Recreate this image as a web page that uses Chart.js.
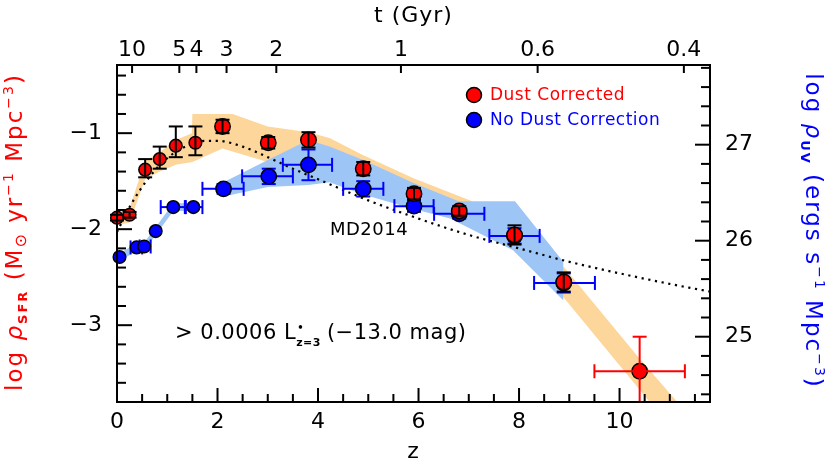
<!DOCTYPE html>
<html>
<head>
<meta charset="utf-8">
<script src="https://cdn.jsdelivr.net/npm/chart.js@4/dist/chart.umd.min.js"></script>
<style>
    html, body { margin: 0; padding: 0; background: #fff; }
    #wrap { width: 830px; height: 470px; }
</style>
</head>
<body>
<div id="wrap"><canvas id="chart"></canvas></div>
<script>
// dust corrected SFR density (red points)
const redZ     = [0.00, 0.25, 0.56, 0.85, 1.17, 1.56, 2.10, 3.01, 3.81, 4.90, 5.91, 6.81, 7.91, 8.89, 10.40]
const redSFR   = [-1.88, -1.85, -1.38, -1.27, -1.13, -1.10, -0.93, -1.10, -1.07, -1.37, -1.63, -1.81, -2.06, -2.55, -3.48]
const redErrUp = [0.03, 0.03, 0.11, 0.13, 0.20, 0.17, 0.07, 0.06, 0.08, 0.07, 0.06, 0.05, 0.10, 0.10, 0.36]
const redErrDn = [0.03, 0.03, 0.08, 0.10, 0.12, 0.13, 0.07, 0.06, 0.08, 0.07, 0.06, 0.05, 0.10, 0.10, 0.50]
const redZLo   = [null, null, null, null, null, null, null, null, null, null, null, null, null, null, 9.50]
const redZHi   = [null, null, null, null, null, null, null, null, null, null, null, null, null, null, 11.30]

// no dust correction (blue points)
const blueZ   = [0.05, 0.39, 0.54, 0.77, 1.12, 1.52, 2.12, 3.02, 3.81, 4.90, 5.91, 6.81, 7.91, 8.89]
const blueSFR = [-2.29, -2.19, -2.18, -2.02, -1.77, -1.77, -1.58, -1.45, -1.33, -1.58, -1.76, -1.84, -2.07, -2.56]
const blueZLo = [null, 0.27, 0.45, null, 0.87, 1.35, 1.70, 2.49, 3.30, 4.50, 5.52, 6.31, 7.41, 8.30]
const blueZHi = [null, 0.50, 0.67, null, 1.37, 1.70, 2.52, 3.50, 4.28, 5.30, 6.30, 7.31, 8.41, 9.51]
const blueErr = [0, 0, 0, 0, 0, 0, 0.05, 0.08, 0.16, 0.08, 0.06, 0.05, 0.08, 0.10]

// MD2014 curve (dotted)
const mdZ   = [0, 0.25, 0.5, 0.75, 1, 1.25, 1.5, 1.75, 2, 2.5, 3, 3.5, 4, 5, 6, 7, 8, 9, 10, 11, 11.8]
const mdSFR = [-2.03, -1.77, -1.56, -1.39, -1.26, -1.17, -1.11, -1.08, -1.08, -1.14, -1.25, -1.37, -1.48, -1.70, -1.89, -2.06, -2.20, -2.34, -2.46, -2.57, -2.65]

// shaded ranges, outline traced upper edge then lower edge back
const orangeBandZ   = [0, 0.25, 0.56, 0.85, 1.17, 1.49, 1.50, 2.30, 3.00, 3.81, 4.23, 4.90, 5.90, 7.03, 7.90, 8.90, 10.40, 11.15,
                       10.60, 8.90, 7.90, 6.80, 5.90, 4.90, 3.81, 3.00, 2.10, 1.50, 1.17, 0.85, 0.56, 0.25, 0]
const orangeBandSFR = [-1.81, -1.78, -1.29, -1.20, -1.07, -1.00, -0.80, -0.80, -0.93, -0.99, -1.05, -1.23, -1.47, -1.70, -1.97, -2.40, -3.35, -3.80,
                       -3.80, -2.72, -2.14, -1.92, -1.75, -1.55, -1.35, -1.30, -1.16, -1.30, -1.33, -1.40, -1.48, -1.93, -1.96]
const blueBandZ   = [2.12, 3.00, 3.81, 4.23, 4.90, 5.90, 6.80, 7.92, 8.88, 8.88, 7.88, 6.63, 5.90, 4.90, 4.23, 3.81, 3.00, 2.12]
const blueBandSFR = [-1.51, -1.28, -1.07, -1.14, -1.28, -1.52, -1.71, -1.71, -2.34, -2.74, -2.22, -1.89, -1.79, -1.64, -1.51, -1.54, -1.56, -1.66]
const blueLowBandZ   = [0.05, 0.39, 0.54, 0.77, 1.12, 1.52, 1.52, 1.12, 0.77, 0.54, 0.39, 0.05]
const blueLowBandSFR = [-2.25, -2.15, -2.14, -1.98, -1.73, -1.73, -1.81, -1.81, -2.06, -2.22, -2.23, -2.33]

// top axis: age of the universe and where it falls in z
const ageLabels = ['10', '5', '4', '3', '2', '1', '0.6', '0.4']
const ageZ      = [0.30, 1.24, 1.58, 2.18, 3.17, 5.65, 8.37, 11.28]

const zTicks   = [0, 2, 4, 6, 8, 10]
const sfrTicks = [-3, -2, -1]
const uvTicks  = [25, 26, 27]

const zMin = 0, zMax = 11.8
const sfrMin = -3.80, sfrMax = -0.29
const uvOffset = 28.12

const FONT = '"DejaVu Sans", sans-serif'
const RED = '#ff0000'
const BLUE = '#0000ff'

function pts(xArr, yArr) {
    return xArr.map((x, i) => ({ x: x, y: yArr[i] }))
}

function line(ctx, x1, y1, x2, y2) {
    ctx.beginPath()
    ctx.moveTo(x1, y1)
    ctx.lineTo(x2, y2)
    ctx.stroke()
}

function clipY(chart) {
    const a = chart.chartArea
    chart.ctx.beginPath()
    chart.ctx.rect(0, a.top, chart.width, a.bottom - a.top)
    chart.ctx.clip()
}

// error bars of the blue points, drawn just under the blue circles
function drawBlueErrors(chart) {
    const ctx = chart.ctx
    const sx = chart.scales.x
    const sy = chart.scales.y
    ctx.save()
    clipY(chart)
    ctx.strokeStyle = BLUE
    ctx.lineWidth = 2
    blueZ.forEach((z, i) => {
        const px = sx.getPixelForValue(z)
        const py = sy.getPixelForValue(blueSFR[i])
        if (blueZLo[i] !== null) {
            const x1 = sx.getPixelForValue(blueZLo[i])
            const x2 = sx.getPixelForValue(blueZHi[i])
            line(ctx, x1, py, x2, py)
            line(ctx, x1, py - 7, x1, py + 7)
            line(ctx, x2, py - 7, x2, py + 7)
        }
        if (blueErr[i] > 0) {
            const y1 = sy.getPixelForValue(blueSFR[i] + blueErr[i])
            const y2 = sy.getPixelForValue(blueSFR[i] - blueErr[i])
            line(ctx, px, y1, px, y2)
            line(ctx, px - 7, y1, px + 7, y1)
            line(ctx, px - 7, y2, px + 7, y2)
        }
    })
    ctx.restore()
}

// error bars of the red points, drawn over the red circles
function drawRedErrors(chart) {
    const ctx = chart.ctx
    const sx = chart.scales.x
    const sy = chart.scales.y
    ctx.save()
    clipY(chart)
    ctx.lineWidth = 2
    redZ.forEach((z, i) => {
        ctx.strokeStyle = redZLo[i] !== null ? RED : '#000'
        const px = sx.getPixelForValue(z)
        const py = sy.getPixelForValue(redSFR[i])
        const y1 = sy.getPixelForValue(redSFR[i] + redErrUp[i])
        const y2 = sy.getPixelForValue(redSFR[i] - redErrDn[i])
        line(ctx, px, y1, px, y2)
        line(ctx, px - 7, y1, px + 7, y1)
        line(ctx, px - 7, y2, px + 7, y2)
        if (redZLo[i] !== null) {
            const x1 = sx.getPixelForValue(redZLo[i])
            const x2 = sx.getPixelForValue(redZHi[i])
            line(ctx, x1, py, x2, py)
            line(ctx, x1, py - 7, x1, py + 7)
            line(ctx, x2, py - 7, x2, py + 7)
        }
    })
    ctx.restore()
}

// text made of pieces with their own font and baseline shift
function drawRuns(ctx, runs, cx, cy, angle, color) {
    ctx.save()
    ctx.translate(cx, cy)
    ctx.rotate(angle)
    ctx.fillStyle = color
    ctx.textBaseline = 'alphabetic'
    ctx.letterSpacing = '2px'
    let total = 0
    runs.forEach(r => { ctx.font = r.font; total += ctx.measureText(r.t).width })
    let x = -total / 2
    runs.forEach(r => {
        ctx.font = r.font
        ctx.fillText(r.t, x, r.dy)
        x += ctx.measureText(r.t).width
    })
    ctx.restore()
}

const errorBars = {
    id: 'errorBars',
    beforeDatasetDraw(chart, args) {
        if (chart.data.datasets[args.index].label === 'No Dust Correction') drawBlueErrors(chart)
    },
    afterDatasetDraw(chart, args) {
        if (chart.data.datasets[args.index].label === 'Dust Corrected') drawRedErrors(chart)
    }
}

// frame, inward ticks, titles, legend and labels
const decorations = {
    id: 'decorations',
    afterDraw(chart) {
        const ctx = chart.ctx
        const a = chart.chartArea
        const sx = chart.scales.x
        const sy = chart.scales.y
        const sy2 = chart.scales.y2
        ctx.save()
        ctx.strokeStyle = '#000'
        ctx.lineWidth = 2

        for (let k = 0; k <= Math.floor(zMax * 2); k++) {
            const v = k / 2
            const len = (k % 4 === 0) ? 14 : 8
            const px = sx.getPixelForValue(v)
            line(ctx, px, a.bottom, px, a.bottom - len)
        }
        ageZ.forEach(z => {
            const px = sx.getPixelForValue(z)
            line(ctx, px, a.top, px, a.top + 8)
        })
        for (let k = -19; k <= -2; k++) {
            const v = k / 5
            const len = (k % 5 === 0) ? 15 : 9
            const py = sy.getPixelForValue(v)
            line(ctx, a.left, py, a.left + len, py)
        }
        for (let k = 122; k <= 139; k++) {
            const v = k / 5
            const len = (k % 5 === 0) ? 15 : 9
            const py = sy2.getPixelForValue(v)
            line(ctx, a.right, py, a.right - len, py)
        }
        ctx.strokeRect(a.left, a.top, a.right - a.left, a.bottom - a.top)

        // axis titles
        const cx = (a.left + a.right) / 2
        ctx.fillStyle = '#000'
        ctx.font = '22px ' + FONT
        ctx.textAlign = 'center'
        ctx.textBaseline = 'middle'
        ctx.letterSpacing = '1px'
        ctx.fillText('z', cx, 452)
        ctx.fillText('t (Gyr)', cx, 16)
        ctx.textAlign = 'left'

        const big = '23px ' + FONT
        const sup = '14px ' + FONT
        drawRuns(ctx, [
            { t: 'log ', font: big, dy: 0 },
            { t: 'ρ', font: 'italic ' + big, dy: 0 },
            { t: 'SFR', font: 'bold 13px ' + FONT, dy: 5 },
            { t: ' (M', font: big, dy: 0 },
            { t: '⊙', font: '16px ' + FONT, dy: 4 },
            { t: ' yr', font: big, dy: 0 },
            { t: '−1', font: sup, dy: -9 },
            { t: ' Mpc', font: big, dy: 0 },
            { t: '−3', font: sup, dy: -9 },
            { t: ')', font: big, dy: 0 }
        ], 22, 232, -Math.PI / 2, RED)
        drawRuns(ctx, [
            { t: 'log ', font: big, dy: 0 },
            { t: 'ρ', font: 'italic ' + big, dy: 0 },
            { t: 'UV', font: 'bold 13px ' + FONT, dy: 5 },
            { t: ' (ergs s', font: big, dy: 0 },
            { t: '−1', font: sup, dy: -9 },
            { t: ' Mpc', font: big, dy: 0 },
            { t: '−3', font: sup, dy: -9 },
            { t: ')', font: big, dy: 0 }
        ], 806, 231, Math.PI / 2, BLUE)

        // legend
        const legend = [['Dust Corrected', RED, 95], ['No Dust Correction', BLUE, 120]]
        ctx.lineWidth = 1.5
        ctx.font = '17px ' + FONT
        ctx.letterSpacing = '0.5px'
        ctx.textBaseline = 'middle'
        legend.forEach(([text, color, y]) => {
            ctx.beginPath()
            ctx.arc(474, y, 7.5, 0, Math.PI * 2)
            ctx.fillStyle = color
            ctx.fill()
            ctx.stroke()
            ctx.fillText(text, 490, y + 1)
        })

        // labels
        ctx.fillStyle = '#000'
        ctx.font = '18px ' + FONT
        ctx.textAlign = 'center'
        ctx.fillText('MD2014', 369, 230)
        ctx.textAlign = 'left'
        ctx.font = '21px ' + FONT
        const ty = 334
        let x = 175
        ctx.fillText('> 0.0006 L', x, ty)
        x += ctx.measureText('> 0.0006 L').width
        ctx.font = 'bold 10px ' + FONT
        ctx.fillText('•', x + 1, ty - 6)
        ctx.font = 'bold 11px ' + FONT
        ctx.fillText('z=3', x, ty + 9)
        x += ctx.measureText('z=3').width + 6
        ctx.font = '21px ' + FONT
        ctx.fillText('(−13.0 mag)', x, ty)
        ctx.restore()
    }
}

Chart.defaults.font.family = FONT
Chart.defaults.color = '#000'

const markSize = c => (c.raw && c.raw.x < 2 ? 6.3 : 7.7)

new Chart(document.getElementById('chart'), {
    type: 'line',
    data: {
        datasets: [
            {
                label: 'Dust Corrected',
                data: pts(redZ, redSFR),
                showLine: false,
                pointRadius: markSize,
                pointBackgroundColor: RED,
                pointBorderColor: '#000',
                pointBorderWidth: 1.5,
                clip: false
            },
            {
                label: 'No Dust Correction',
                data: pts(blueZ, blueSFR),
                showLine: false,
                pointRadius: markSize,
                pointBackgroundColor: BLUE,
                pointBorderColor: '#000',
                pointBorderWidth: 1.5,
                clip: false
            },
            {
                label: 'MD2014',
                data: pts(mdZ, mdSFR),
                borderColor: '#000',
                borderWidth: 2.2,
                borderDash: [2.2, 4.6],
                cubicInterpolationMode: 'monotone',
                pointRadius: 0,
                fill: false
            },
            {
                label: 'blue band',
                data: pts(blueBandZ, blueBandSFR),
                borderWidth: 0,
                pointRadius: 0,
                backgroundColor: '#9dc6f7',
                fill: 'shape'
            },
            {
                label: 'blue band low z',
                data: pts(blueLowBandZ, blueLowBandSFR),
                borderWidth: 0,
                pointRadius: 0,
                backgroundColor: '#9dc6f7',
                fill: 'shape'
            },
            {
                label: 'orange band',
                data: pts(orangeBandZ, orangeBandSFR),
                borderWidth: 0,
                pointRadius: 0,
                backgroundColor: '#fdd69b',
                fill: 'shape'
            }
        ]
    },
    options: {
        responsive: true,
        maintainAspectRatio: false,
        animation: false,
        events: [],
        layout: { padding: 0 },
        plugins: {
            legend: { display: false },
            tooltip: { enabled: false }
        },
        scales: {
            x: {
                type: 'linear',
                position: 'bottom',
                min: zMin,
                max: zMax,
                grid: { display: false, drawTicks: false },
                border: { display: false },
                afterBuildTicks: s => { s.ticks = zTicks.map(v => ({ value: v })) },
                afterFit: s => { s.height = 68 },
                ticks: { font: { size: 22 }, padding: 7, maxRotation: 0, autoSkip: false }
            },
            x2: {
                type: 'linear',
                position: 'top',
                display: true,
                min: zMin,
                max: zMax,
                grid: { display: false, drawTicks: false },
                border: { display: false },
                afterBuildTicks: s => { s.ticks = ageZ.map(v => ({ value: v })) },
                afterFit: s => { s.height = 65 },
                ticks: {
                    font: { size: 22 },
                    padding: 2,
                    maxRotation: 0,
                    autoSkip: false,
                    callback: (v, i) => ageLabels[i]
                }
            },
            y: {
                type: 'linear',
                position: 'left',
                min: sfrMin,
                max: sfrMax,
                grid: { display: false, drawTicks: false },
                border: { display: false },
                afterBuildTicks: s => { s.ticks = sfrTicks.map(v => ({ value: v })) },
                afterFit: s => { s.width = 117 },
                ticks: {
                    font: { size: 22 },
                    padding: 15,
                    callback: v => '\u2212' + Math.abs(v)
                }
            },
            y2: {
                type: 'linear',
                position: 'right',
                display: true,
                min: sfrMin + uvOffset,
                max: sfrMax + uvOffset,
                grid: { display: false, drawTicks: false },
                border: { display: false },
                afterBuildTicks: s => { s.ticks = uvTicks.map(v => ({ value: v })) },
                afterFit: s => { s.width = 120 },
                ticks: { font: { size: 22 }, padding: 15 }
            }
        }
    },
    plugins: [errorBars, decorations]
})
</script>
</body>
</html>
